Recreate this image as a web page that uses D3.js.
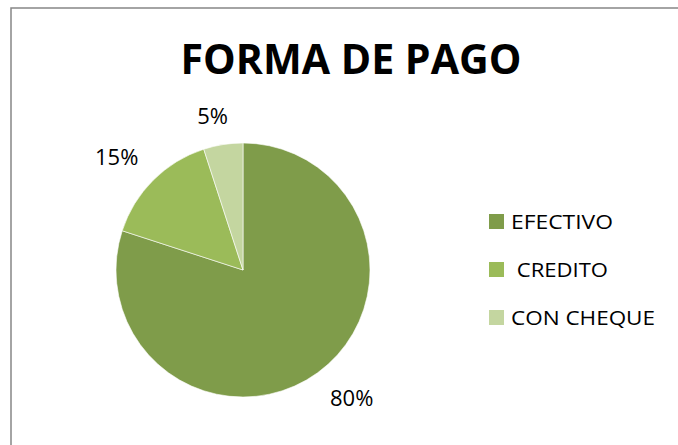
<!DOCTYPE html>
<html>
<head>
<meta charset="utf-8">
<script src="https://cdn.jsdelivr.net/npm/d3@7"></script>
<style>
  html, body { margin: 0; padding: 0; background: #fff; }
  svg { display: block; }
</style>
</head>
<body>
<svg id="chart" width="678" height="445"></svg>
<script>
// data
const categories = ["EFECTIVO", "CREDITO", "CON CHEQUE"];
const legendLabels = ["EFECTIVO", " CREDITO", "CON CHEQUE"];
const values = [80, 15, 5];
const colors = ["#7f9c4a", "#9bbb59", "#c4d6a0"];

const svg = d3.select("#chart");
const font = "'Open Sans', 'DejaVu Sans', sans-serif";

// chart area border (right/bottom run off the picture)
svg.append("rect")
  .attr("x", 11).attr("y", 8)
  .attr("width", 720).attr("height", 500)
  .attr("fill", "#fff")
  .attr("stroke", "#868686")
  .attr("stroke-width", 1.5);

// title
svg.append("text")
  .attr("x", 351).attr("y", 74)
  .attr("text-anchor", "middle")
  .attr("font-family", font)
  .attr("font-weight", "bold")
  .attr("font-size", 42)
  .attr("textLength", 341)
  .attr("lengthAdjust", "spacingAndGlyphs")
  .attr("fill", "#000")
  .text("FORMA DE PAGO");

// pie
const cx = 243, cy = 270, r = 127;
const g = svg.append("g").attr("transform", `translate(${cx},${cy})`);

const pie = d3.pie().sort(null).value(d => d);
const arcs = pie(values);
const arc = d3.arc().innerRadius(0).outerRadius(r);

g.selectAll("path.slice")
  .data(arcs)
  .join("path")
  .attr("class", "slice")
  .attr("d", arc)
  .attr("fill", (d, i) => colors[i])
  .attr("stroke", "#fff")
  .attr("stroke-width", 0.6);

// labels outside end: the box corner sits on the bisector, a bit past the rim
const pct = d3.format(".0%");
const total = d3.sum(values);
const R = r + 21;
const clamp = v => Math.max(-1, Math.min(1, v));
g.selectAll("text.lbl")
  .data(arcs)
  .join("text")
  .attr("class", "lbl")
  .attr("font-family", font)
  .attr("font-size", 22)
  .attr("fill", "#000")
  .attr("text-anchor", "middle")
  .text(d => pct(d.data / total))
  .each(function (d) {
    const w = this.getBBox().width, h = 16;
    const a = (d.startAngle + d.endAngle) / 2;
    const s = Math.sin(a), c = Math.cos(a);
    const mx = s * R + clamp(3 * s) * w / 2;
    const my = -c * R - clamp(3 * c) * h / 2;
    d3.select(this)
      .attr("x", mx)
      .attr("y", my + h / 2);
  });

// legend
const legend = svg.append("g").attr("transform", "translate(489,214)");
const rows = legend.selectAll("g")
  .data(categories)
  .join("g")
  .attr("transform", (d, i) => `translate(0,${i * 48})`);

rows.append("rect")
  .attr("width", 15).attr("height", 15)
  .attr("fill", (d, i) => colors[i]);

const legendWidths = [102, 97, 144];
rows.append("text")
  .attr("x", 22).attr("y", 15)
  .attr("font-family", font)
  .attr("font-size", 20.5)
  .attr("fill", "#000")
  .attr("xml:space", "preserve")
  .attr("textLength", (d, i) => legendWidths[i])
  .attr("lengthAdjust", "spacingAndGlyphs")
  .style("white-space", "pre")
  .text((d, i) => legendLabels[i]);
</script>
</body>
</html>
